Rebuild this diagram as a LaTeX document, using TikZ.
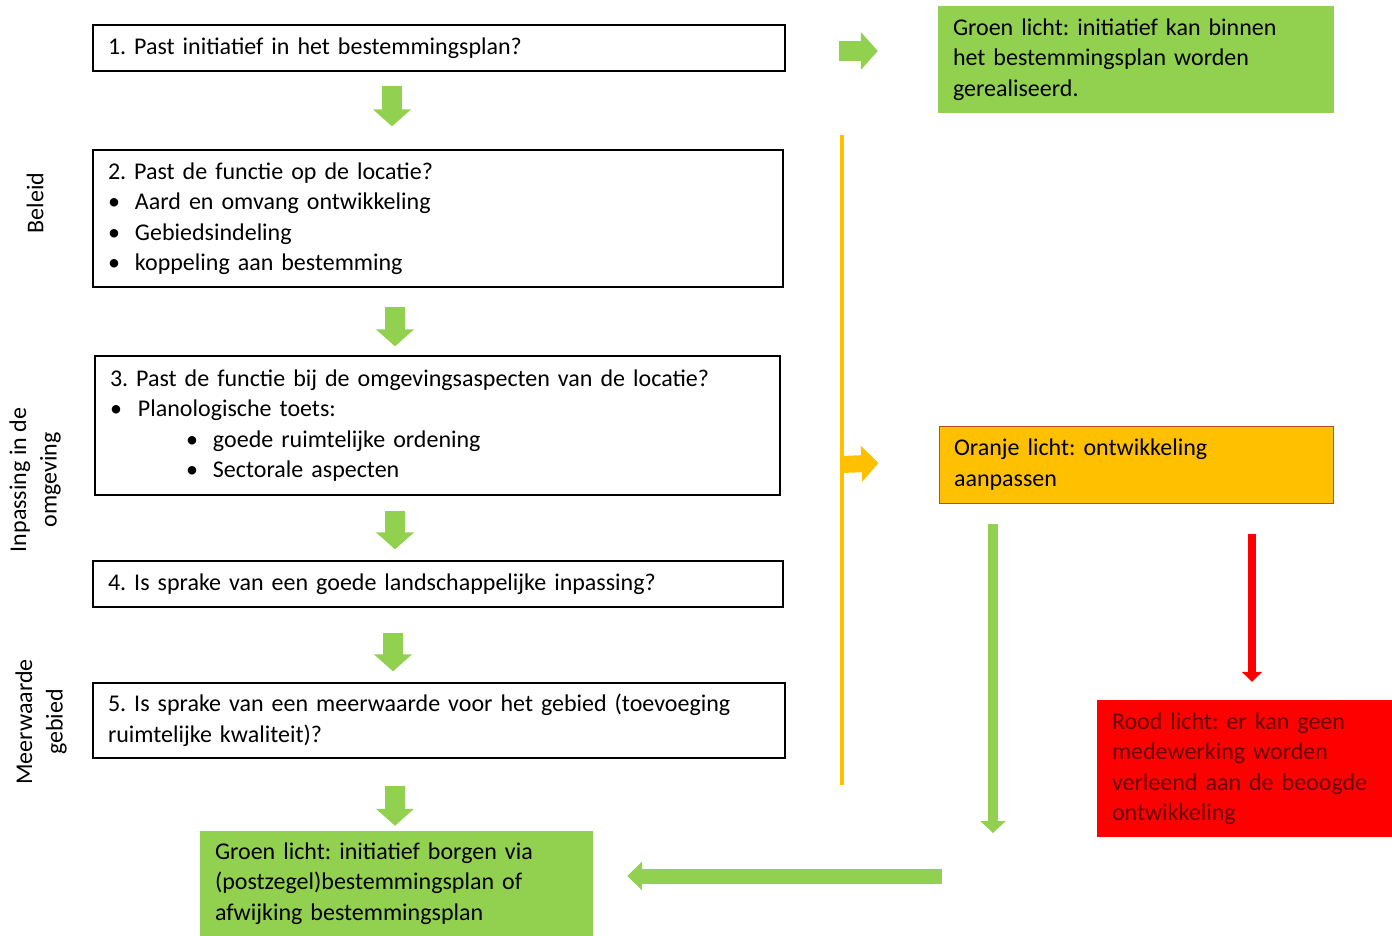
\documentclass[tikz,border=0pt]{standalone}
\usepackage{fontspec}
\setmainfont{Carlito}
\usepackage{tikz}
\usetikzlibrary{arrows.meta}
\usepackage{xcolor}
\definecolor{groen}{HTML}{92D050}
\definecolor{oranje}{HTML}{FFC000}
\definecolor{rood}{HTML}{FF0000}
\definecolor{oranjerand}{RGB}{185,75,40}
\definecolor{roodtekst}{RGB}{105,0,0}
\tikzset{>=latex}
\newcommand{\bul}[1]{\makebox[#1][l]{\textbullet}}
\frenchspacing

\begin{document}
\begin{tikzpicture}[x=1pt, y=-1pt]
                \tikzstyle{every node}=[font=\fontsize{24}{30.5}\selectfont]
                \tikzstyle{vraag}=[draw, line width=1.2pt, inner xsep=15pt, inner ysep=0pt, align=left]
                \tikzstyle{licht}=[inner xsep=15pt, inner ysep=0pt, align=left]
                \tikzstyle{blokpijl}=[groen, line width=20pt, -{Triangle[width=37pt, length=17pt]}]
                \useasboundingbox (0,0) rectangle (1392,936);

                % vragen
                \node[vraag, text width=662pt, minimum height=46pt] (v1) at (439,48)
                        {1. Past initiatief in het bestemmingsplan?};
                \node[vraag, text width=660pt, minimum height=137pt] (v2) at (438,218.5)
                        {2. Past de functie op de locatie?\\
                        \bul{27pt}Aard en omvang ontwikkeling\\
                        \bul{27pt}Gebiedsindeling\\
                        \bul{27pt}koppeling aan bestemming};
                \node[vraag, text width=655pt, minimum height=139pt] (v3) at (437.5,425.5)
                        {3. Past de functie bij de omgevingsaspecten van de locatie?\\
                        \bul{28pt}Planologische toets:\\
                        \hspace*{76pt}\bul{27pt}goede ruimtelijke ordening\\
                        \hspace*{76pt}\bul{27pt}Sectorale aspecten};
                \node[vraag, text width=660pt, minimum height=46pt] (v4) at (438,584)
                        {4. Is sprake van een goede landschappelijke inpassing?};
                \node[vraag, text width=662pt, minimum height=75pt] (v5) at (439,720.5)
                        {5. Is sprake van een meerwaarde voor het gebied (toevoeging\\
                        ruimtelijke kwaliteit)?};

                % uitkomsten
                \node[licht, fill=groen, text width=363pt, minimum height=105pt] (gbot) at (396.5,883.5)
                        {Groen licht: initiatief borgen via\\
                        (postzegel)bestemmingsplan of\\
                        afwijking bestemmingsplan};
                \node[licht, fill=groen, text width=366pt, minimum height=107pt] (gtop) at (1136,59.5)
                        {Groen licht: initiatief kan binnen\\
                        het bestemmingsplan worden\\
                        gerealiseerd.};
                \node[licht, fill=oranje, draw=oranjerand, line width=1pt, text width=364pt,
                        minimum height=77pt] (oranje) at (1136,464.5)
                        {Oranje licht: ontwikkeling\\
                        aanpassen};
                \node[licht, fill=rood, text=roodtekst, text width=265pt, minimum height=137pt]
                        (rood) at (1244.5,768.5)
                        {Rood licht: er kan geen\\
                        medewerking worden\\
                        verleend aan de beoogde\\
                        ontwikkeling};

                % zijlabels
                \node[rotate=90, align=center] (beleid) at (35,203) {Beleid};
                \node[rotate=90, align=center] (inpassing) at (35,480) {Inpassing in de\\omgeving};
                \node[rotate=90, align=center] (meerwaarde) at (41,722) {Meerwaarde\\gebied};

                % pijlen tussen de vragen
                \draw[blokpijl] ([shift={(-47pt,-14pt)}]v1.south) -- ([shift={(-46pt,23pt)}]v2.north);
                \draw[blokpijl] ([shift={(-43pt,-19pt)}]v2.south) -- ([shift={(-42.5pt,9pt)}]v3.north);
                \draw[blokpijl] ([shift={(-42.5pt,-15pt)}]v3.south) -- ([shift={(-43pt,11pt)}]v4.north);
                \draw[blokpijl] ([shift={(-45pt,-25pt)}]v4.south) -- ([shift={(-46pt,11pt)}]v5.north);
                \draw[blokpijl] ([shift={(-44pt,-27pt)}]v5.south) -- ([shift={(-1.5pt,5pt)}]gbot.north);

                \draw[blokpijl] ([shift={(53pt,-3pt)}]v1.east) -- ([shift={(-60pt,8.5pt)}]gtop.west);

                % oranje lijn
                \coordinate (lijnboven) at (842,135);
                \coordinate (lijnonder) at (842,785);
                \draw[oranje, line width=3.5pt] (lijnboven) -- (lijnonder);
                \draw[oranje, line width=17pt, -{Triangle[width=35pt, length=17pt]}]
                        (lijnboven |- oranje.west) -- ([shift={(-60pt,1.5pt)}]oranje.west);

                % terug naar groen
                \coordinate (terug) at (942,876);
                \coordinate (pijlonder) at (993,833);
                \draw[groen, line width=10pt, -{Triangle[width=25pt, length=12pt]}]
                        ([yshift=-20pt]pijlonder |- oranje.south) -- (pijlonder);
                \draw[groen, line width=15pt, -{Triangle[width=28pt, length=15pt]}]
                        (terug) -- ([shift={(34pt,7.5pt)}]gbot.east);
                \draw[rood, line width=8pt, -{Triangle[width=20pt, length=10pt]}]
                        ([shift={(116pt,-30pt)}]oranje.south) -- ([shift={(7.5pt,18pt)}]rood.north);
\end{tikzpicture}
\end{document}
